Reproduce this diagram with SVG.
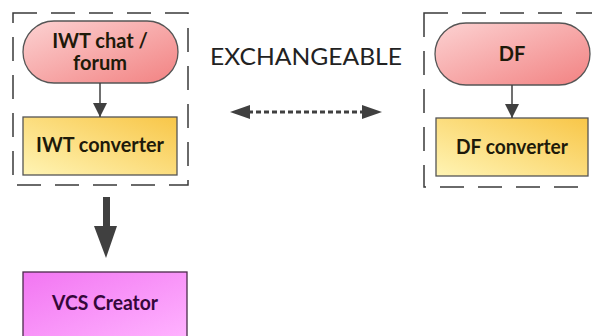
<svg xmlns="http://www.w3.org/2000/svg" width="592" height="336" viewBox="0 0 592 336">
<defs>
<linearGradient id="gPink" x1="0" y1="0" x2="1" y2="1">
<stop offset="0" stop-color="#fcd2d2"/>
<stop offset="1" stop-color="#f28282"/>
</linearGradient>
<linearGradient id="gYellow" x1="0" y1="1" x2="1" y2="0">
<stop offset="0" stop-color="#fff4b4"/>
<stop offset="1" stop-color="#f8c648"/>
</linearGradient>
<linearGradient id="gMag" x1="0" y1="0" x2="1" y2="1">
<stop offset="0" stop-color="#f276f2"/>
<stop offset="1" stop-color="#ffb4ff"/>
</linearGradient>
<marker id="ah" viewBox="0 0 10 10" refX="10" refY="5" markerWidth="14" markerHeight="14" markerUnits="userSpaceOnUse" orient="auto">
<path d="M0,0 L10,5 L0,10 z" fill="#404040"/>
</marker>
<style>
.grp{fill:none;stroke:#3a3a3a;stroke-width:1.5;stroke-dasharray:24 14}
.pill{fill:url(#gPink);stroke:#555;stroke-width:1.3}
.conv{fill:url(#gYellow);stroke:#555;stroke-width:1.3}
.vcs{fill:url(#gMag);stroke:#4a2a4a;stroke-width:1.3}
.lbl{font-family:Lato,"Open Sans","DejaVu Sans",sans-serif;font-weight:bold;font-size:20px;fill:#1e1a0a;text-anchor:middle}
.vlbl{fill:#35083a}
.big{font-family:Lato,"Open Sans","DejaVu Sans",sans-serif;font-size:24px;fill:#222}
.link{stroke:#404040;stroke-width:1.5;fill:none}
</style>
</defs>

<rect class="grp" x="13" y="13" width="175" height="172"/>
<rect class="grp" x="424" y="13" width="180" height="174"/>

<g id="iwt-chat">
<rect class="pill" x="23" y="21" width="155" height="62" rx="31" ry="31"/>
<text class="lbl" x="100" y="48">IWT chat /</text>
<text class="lbl" x="100" y="70">forum</text>
</g>
<g id="iwt-converter">
<rect class="conv" x="23" y="117" width="154" height="58"/>
<text class="lbl" x="100" y="152" textLength="128" lengthAdjust="spacingAndGlyphs">IWT converter</text>
</g>
<g id="df">
<rect class="pill" x="435" y="23" width="155" height="62" rx="31" ry="31"/>
<text class="lbl" x="512" y="61">DF</text>
</g>
<g id="df-converter">
<rect class="conv" x="436" y="118" width="152" height="58"/>
<text class="lbl" x="512" y="154" textLength="112" lengthAdjust="spacingAndGlyphs">DF converter</text>
</g>
<g id="vcs-creator">
<rect class="vcs" x="23" y="272" width="164" height="70"/>
<text class="lbl vlbl" x="105" y="310" textLength="106" lengthAdjust="spacingAndGlyphs">VCS Creator</text>
</g>
<g id="exchangeable">
<text class="big" x="210" y="65" textLength="192" lengthAdjust="spacingAndGlyphs">EXCHANGEABLE</text>
</g>

<g id="connectors">
<line class="link" x1="100" y1="83" x2="100" y2="117" marker-end="url(#ah)"/>
<line class="link" x1="512" y1="85" x2="512" y2="118" marker-end="url(#ah)"/>
<line x1="248" y1="112" x2="364" y2="112" stroke="#404040" stroke-width="3" stroke-dasharray="5 3"/>
<path d="M230,112 L250,105 L250,119 z" fill="#404040"/>
<path d="M382,112 L362,105 L362,119 z" fill="#404040"/>
<path d="M103,197 L110,197 L110,226 L117,226 L106,258 L94,226 L103,226 z" fill="#404040"/>
</g>
</svg>
